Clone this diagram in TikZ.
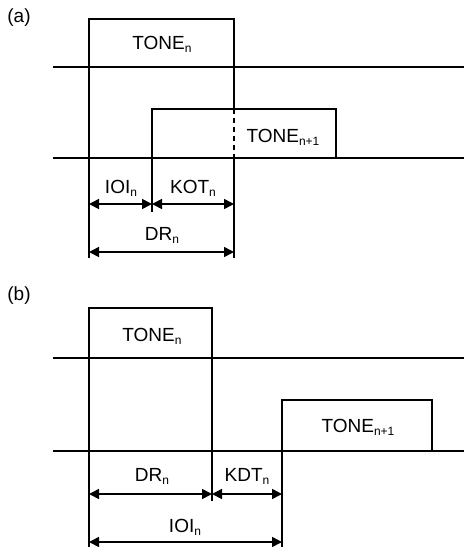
\documentclass[tikz,border=0pt]{standalone}
\usepackage{fontspec}
\setmainfont{Liberation Sans}
\usetikzlibrary{arrows.meta, positioning}
\newcommand{\idx}[1]{\raisebox{-0.3ex}{\fontsize{12}{12}\selectfont #1}}

\tikzset{
  track/.style={line width=1.6pt},
  edge/.style={line width=1.6pt},
  span/.style={line width=1.6pt, {Triangle[length=10pt,width=10pt]}-{Triangle[length=10pt,width=10pt]}},
  lbl/.style={font=\fontsize{19}{21}\selectfont, inner sep=0pt}
}

\begin{document}
\begin{tikzpicture}[x=1pt, y=-1pt]
  \useasboundingbox (0,0) rectangle (464,547);

  % ---- (a) overlapping tones
  \node[lbl] (tagA) at (19,18) {(a)};
  \draw[track] (53,67) -- (464,67);
  \draw[track] (53,158) -- (464,158);

  \coordinate (a0) at (89,19);
  \coordinate (a1) at (234,19);
  \coordinate (b0) at (152,109);
  \coordinate (b1) at (336,109);

  % tone n
  \draw[edge] (89,258) -- (a0) -- (a1) -- (234,109);
  \draw[edge, dash pattern=on 5pt off 4pt] (234,109) -- (234,158);
  \draw[edge] (234,158) -- (234,258);
  % tone n+1
  \draw[edge] (152,212) -- (b0) -- (b1) -- (336,158);

  \node[lbl] (toneA) at (162,44) {TONE\idx{n}};
  \node[lbl] (nextA) at (283,137) {TONE\idx{n+1}};

  \coordinate (ioiL) at (89,204);
  \coordinate (ioiR) at (152,204);
  \coordinate (kotR) at (234,204);
  \draw[span] (ioiL) -- (ioiR);
  \draw[span] (ioiR) -- (kotR);
  \node[lbl] (ioiA) at (121,188) {IOI\idx{n}};
  \node[lbl] (kotA) at (193,188) {KOT\idx{n}};

  \coordinate (drL) at (89,252);
  \coordinate (drR) at (234,252);
  \draw[span] (drL) -- (drR);
  \node[lbl] (drA) at (162,235) {DR\idx{n}};

  % ---- (b) separated tones
  \node[lbl] (tagB) at (19,296) {(b)};
  \draw[track] (53,358) -- (464,358);
  \draw[track] (53,451) -- (464,451);

  \coordinate (c0) at (89,308);
  \coordinate (c1) at (212,308);
  \coordinate (d0) at (282,400);
  \coordinate (d1) at (432,400);

  \draw[edge] (89,547) -- (c0) -- (c1) -- (212,501);
  \draw[edge] (282,547) -- (d0) -- (d1) -- (432,451);

  \node[lbl] (toneB) at (152,336) {TONE\idx{n}};
  \node[lbl] (nextB) at (358,427) {TONE\idx{n+1}};

  \coordinate (drbL) at (89,494);
  \coordinate (drbR) at (212,494);
  \coordinate (kdtR) at (282,494);
  \draw[span] (drbL) -- (drbR);
  \draw[span] (drbR) -- (kdtR);
  \node[lbl] (drB) at (152,476) {DR\idx{n}};
  \node[lbl] (kdtB) at (247,476) {KDT\idx{n}};

  \coordinate (ioibL) at (89,542);
  \coordinate (ioibR) at (282,542);
  \draw[span] (ioibL) -- (ioibR);
  \node[lbl] (ioiB) at (185,527) {IOI\idx{n}};
\end{tikzpicture}
\end{document}
